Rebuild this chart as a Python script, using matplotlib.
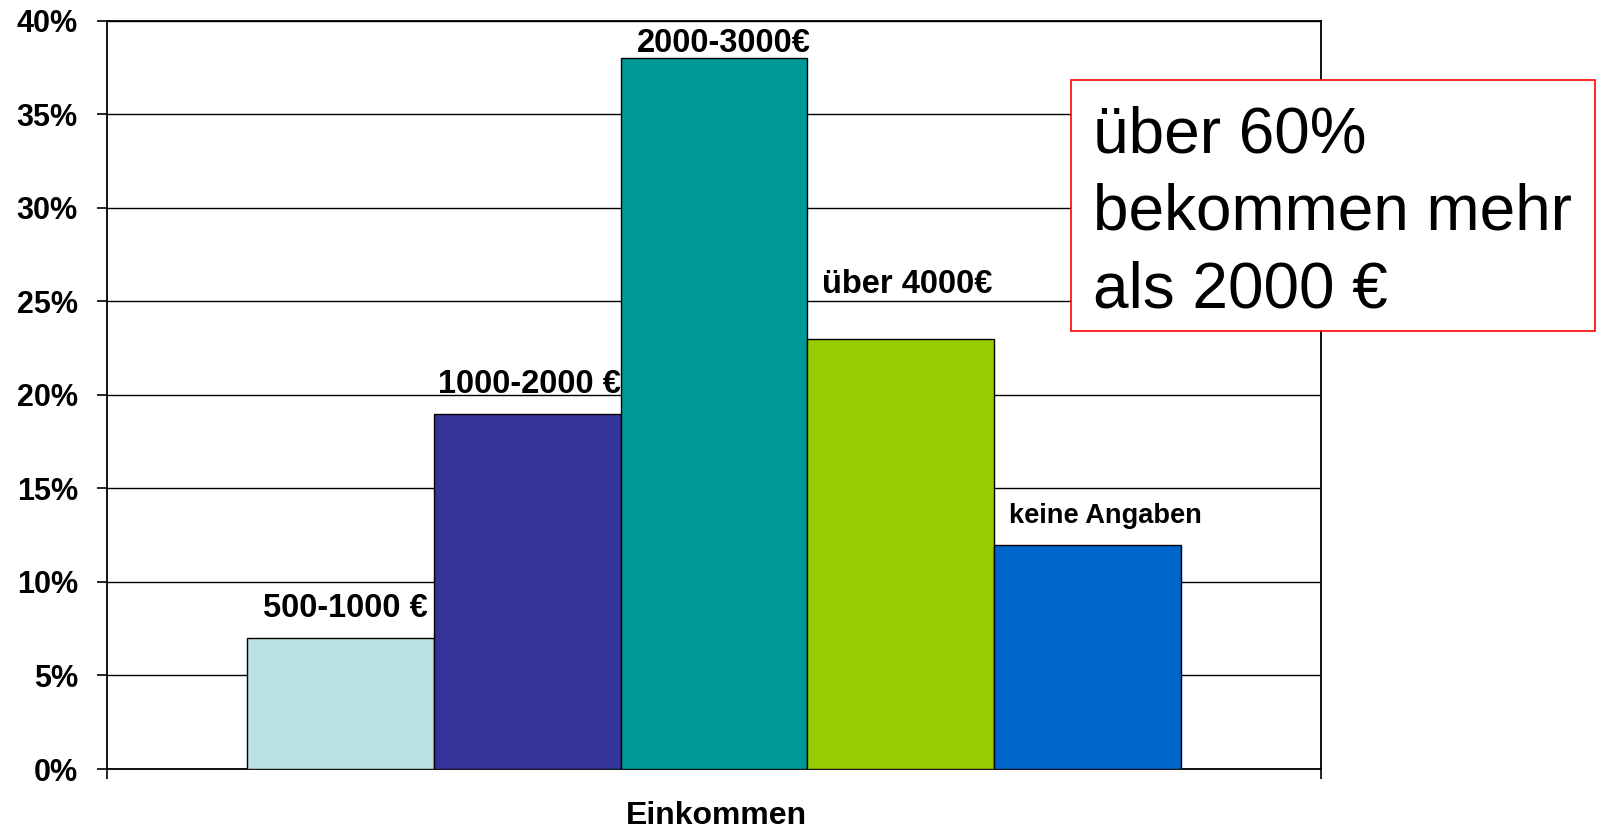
import matplotlib.pyplot as plt

plt.rcParams['font.family'] = ['Liberation Sans', 'DejaVu Sans']

# Daten
categories = ["500-1000 €", "1000-2000 €", "2000-3000€", "über 4000€", "keine Angaben"]
values = [7, 19, 38, 23, 12]
colors = ["#BBE0E3", "#333399", "#009999", "#99CC00", "#0066CC"]
y_ticks = [0, 5, 10, 15, 20, 25, 30, 35, 40]
axis_label = "Einkommen"
note = "über 60%\nbekommen mehr\nals 2000 €"

# label placement relative to each bar (x shift, y above top)
label_dx = [0.025, 0.015, 0.05, 0.035, 0.095]
label_dy = [1.6, 1.58, 0.78, 2.89, 1.52]
label_size = [23.5, 23.5, 23.5, 23.5, 19.6]

fig = plt.figure(figsize=(15.97, 8.32), dpi=100)
ax = fig.add_axes([0.0670, 0.0757, 0.7602, 0.8994])

xs = [i - (len(values) - 1) / 2 for i in range(len(values))]
ax.bar(xs, values, width=1.0, color=colors, edgecolor='black', linewidth=1.0, zorder=3)

for x, v, lab, dx, dy, fs in zip(xs, values, categories, label_dx, label_dy, label_size):
    ax.text(x + dx, v + dy, lab, ha='center', va='center', fontsize=fs,
            fontweight='bold', zorder=4)

xlim = 3.248
ax.set_xlim(-xlim, xlim)
ax.set_ylim(0, 40)
ax.set_yticks(y_ticks)
ax.set_yticklabels([f"{t}%" for t in y_ticks], fontsize=22, fontweight='bold')
ax.set_xticks([-xlim, xlim])
ax.set_xticklabels(["", ""])
ax.tick_params(axis='y', length=7, width=1.2, pad=14)
ax.tick_params(axis='x', length=7, width=1.2)
ax.grid(True, axis='y', color='black', linewidth=1.0, zorder=0)
for s in ax.spines.values():
    s.set_color('black')
    s.set_linewidth(1.3)

fig.text(716 / 1597, 1 - 816 / 832, axis_label, ha='center', va='center',
         fontsize=23, fontweight='bold')

# Hinweisbox
box = plt.Rectangle((1070.5 / 1597, 1 - 331 / 832), (1595 - 1070.5) / 1597,
                    (331 - 79.5) / 832, transform=fig.transFigure,
                    facecolor='white', edgecolor='#FF0000', linewidth=1.2, zorder=5)
fig.add_artist(box)
fig.text(1093 / 1597, 1 - 213 / 832, note, ha='left', va='center', fontsize=46,
         linespacing=1.37, zorder=6)

fig.savefig('out.png', dpi=100)
